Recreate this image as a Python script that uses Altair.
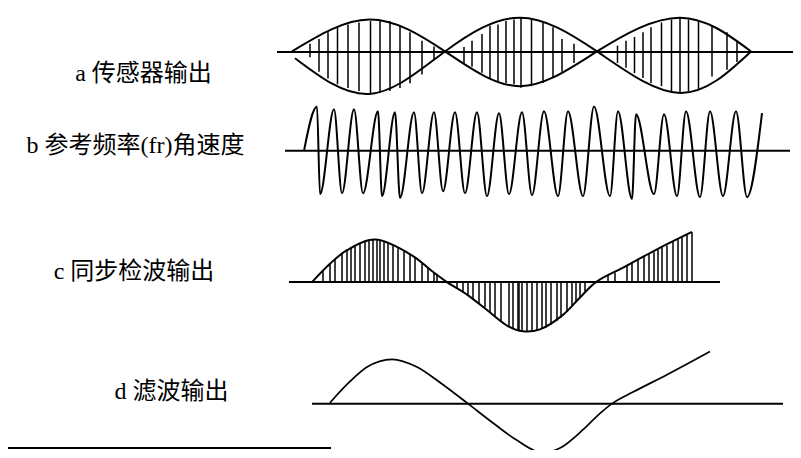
import altair as alt
import pandas as pd

# ---------------- data (page-pixel coordinates) ----------------
labels = ["a 传感器输出", "b 参考频率(fr)角速度", "c 同步检波输出", "d 滤波输出"]
label_x = [143.5, 135.5, 134, 171.5]
label_y = [68, 143, 274, 397.5]

# horizontal base lines of the four traces + the short line at the bottom left
base_x0 = [277, 285, 289, 312, 0]
base_x1 = [794, 790, 720, 783, 331]
base_y = [45.5, 148, 284, 410, 456]

# a: sensor output, the two envelopes
a_env1_x = [292, 369.5, 445, 519.7, 597, 680, 751]
a_env1_y = [45, 12, 45, 81, 45, 10, 45]
a_env2_x = [295, 369.5, 445, 519.7, 597, 680, 751]
a_env2_y = [52, 89, 45, 10, 45, 88, 45]

# a: hatching inside the envelopes
a_hatch_x = [310, 319, 328, 337.5, 348, 359, 370.5, 380, 390, 400, 410, 422, 434,
             464, 472, 482, 490, 498, 506, 514, 521, 531.5, 543, 553, 562, 574,
             617.5, 626, 634.5, 643, 651, 661.5, 671.5, 680, 688.5, 698.5, 712, 727, 737]
a_hatch_top = [37, 32, 25, 20, 17, 15, 13.5, 13.5, 13.5, 18.5, 25, 34, 40,
               40.5, 34, 27, 18.5, 17, 13.5, 12, 10, 12, 15, 20, 32, 37,
               39, 34, 30, 25, 20, 15, 12, 10, 12, 13.5, 18.5, 25, 35]
a_hatch_bot = [51, 66, 73, 79, 83, 86, 89, 88, 86, 83, 78, 69, 54,
               57, 61, 67, 72.5, 76, 77.6, 79, 82.7, 81, 77.6, 72.5, 66, 57,
               57, 62, 67.5, 72.5, 77.6, 81, 86, 87.7, 86, 84, 71, 64, 56]

# b: reference frequency wave
b_start = (304, 148)
b_peak_x = [317, 334, 354, 378, 395, 414, 434, 455, 477, 499,
            522, 544, 568, 594, 618, 636, 664, 686, 710, 736]
b_peak_y = [102, 105, 105, 107, 108, 108, 108, 108, 108, 109,
            108, 107, 107, 102, 107, 110, 110, 107, 107, 107]
b_trough_x = [320, 342, 363, 382, 400, 422, 443, 465, 487, 509,
              532, 558, 583, 610, 632, 654, 677, 700, 723, 747]
b_trough_y = [193, 192, 192, 195, 197, 192, 190, 192, 195, 193,
              194, 195, 195, 195, 198, 193, 195, 196, 195, 196]
b_end = (762, 109)

# c: synchronous detection output
c_curve_x = [312, 330, 347, 375, 413, 430, 447, 467, 487, 507, 523, 540,
             563, 580, 596, 625, 657, 692]
c_curve_y = [284, 265, 251, 240, 257, 271, 284, 297, 313, 329, 335, 333,
             318, 300, 284, 268, 250, 232]
c_hatch_x = [323, 330, 335, 342, 347, 351, 355, 360, 365, 369, 373, 377, 380, 384,
             388, 393, 398, 404, 410, 415, 422, 428, 434, 437,
             457, 463, 468, 473, 479, 485, 490, 495, 501, 509, 513, 518, 519, 522, 527,
             532, 537, 542, 546, 551, 557, 561, 567, 572, 576, 580, 585,
             608, 615, 627, 632, 638, 644, 649, 654, 658, 662, 667, 673, 678, 682, 687, 692]
c_hatch_end = [272, 265, 260, 254, 251, 248, 246, 244, 242, 241, 240, 240, 241, 242,
               244, 246, 249, 252, 255, 258, 264, 269, 274, 276,
               291, 295, 298, 302, 306, 310, 316, 320, 325, 330, 332, 334, 335, 335, 335,
               335, 334, 332, 331, 328, 324, 321, 315, 309, 304, 300, 295,
               277, 274, 267, 264, 261, 258, 255, 253, 250, 248, 246, 242, 239, 237, 235, 232]

# d: filtered output
d_curve_x = [330, 350, 367, 392, 417, 440, 468, 493, 517, 543, 560, 583, 600, 612, 633, 667, 710]
d_curve_y = [409, 387, 372, 364, 372, 388, 410, 430, 448, 461, 456, 437, 420, 410, 398, 380, 356]

# ---------------- tables ----------------
base_df = pd.DataFrame({"x0": base_x0, "x1": base_x1, "y": base_y})

env_rows = []
for name, xs_, ys_ in [("a1", a_env1_x, a_env1_y), ("a2", a_env2_x, a_env2_y)]:
    for i, (px, py) in enumerate(zip(xs_, ys_)):
        env_rows.append({"curve": name, "i": i, "x": px, "y": py})
env_df = pd.DataFrame(env_rows)

b_pts = [b_start]
for k in range(len(b_peak_x)):
    b_pts.append((b_peak_x[k], b_peak_y[k]))
    b_pts.append((b_trough_x[k], b_trough_y[k]))
b_pts.append(b_end)
b_df = pd.DataFrame({"curve": "b", "i": range(len(b_pts)),
                     "x": [p[0] for p in b_pts], "y": [p[1] for p in b_pts]})

c_df = pd.DataFrame({"curve": "c", "i": range(len(c_curve_x)), "x": c_curve_x, "y": c_curve_y})
d_df = pd.DataFrame({"curve": "d", "i": range(len(d_curve_x)), "x": d_curve_x, "y": d_curve_y})

hatch_df = pd.concat([
    pd.DataFrame({"x": a_hatch_x, "y1": a_hatch_top, "y2": a_hatch_bot}),
    pd.DataFrame({"x": c_hatch_x, "y1": c_hatch_end, "y2": [base_y[2]] * len(c_hatch_x)}),
], ignore_index=True)

label_df = pd.DataFrame({"label": labels, "x": label_x, "y": label_y})

# ---------------- chart ----------------
xs = alt.Scale(domain=[8, 793], nice=False, zero=False)
ys = alt.Scale(domain=[0, 458], nice=False, zero=False, reverse=True)


def X(f):
    return alt.X(f, type="quantitative", scale=xs, axis=None)


def Y(f):
    return alt.Y(f, type="quantitative", scale=ys, axis=None)


def curve(df, interp, width):
    return alt.Chart(df).mark_line(color="black", strokeWidth=width, interpolate=interp, clip=True).encode(
        x=X("x"), y=Y("y"), detail="curve:N", order="i:Q")


base = alt.Chart(base_df).mark_rule(color="black", strokeWidth=2, clip=True).encode(
    x=X("x0"), x2=alt.X2("x1"), y=Y("y"))

hatch = alt.Chart(hatch_df).mark_rule(color="black", strokeWidth=1.5, clip=True).encode(
    x=X("x"), y=Y("y1"), y2=alt.Y2("y2"))

env = curve(env_df, "natural", 2)
bwave = curve(b_df, "monotone", 2)
cwave = curve(c_df, "catmull-rom", 2)
dwave = curve(d_df, "monotone", 1.7)

text = alt.Chart(label_df).mark_text(
    font="Liberation Serif, Noto Sans CJK SC", fontSize=24,
    align="center", baseline="middle", color="black"
).encode(x=X("x"), y=Y("y"), text="label:N")

chart = alt.layer(base, hatch, env, bwave, cwave, dwave, text).properties(
    width=785, height=442, padding=0, background="white",
    autosize=alt.AutoSizeParams(type="none")
).configure_view(stroke=None)

chart.save("out.html", embed_options={"renderer": "svg", "actions": False})
